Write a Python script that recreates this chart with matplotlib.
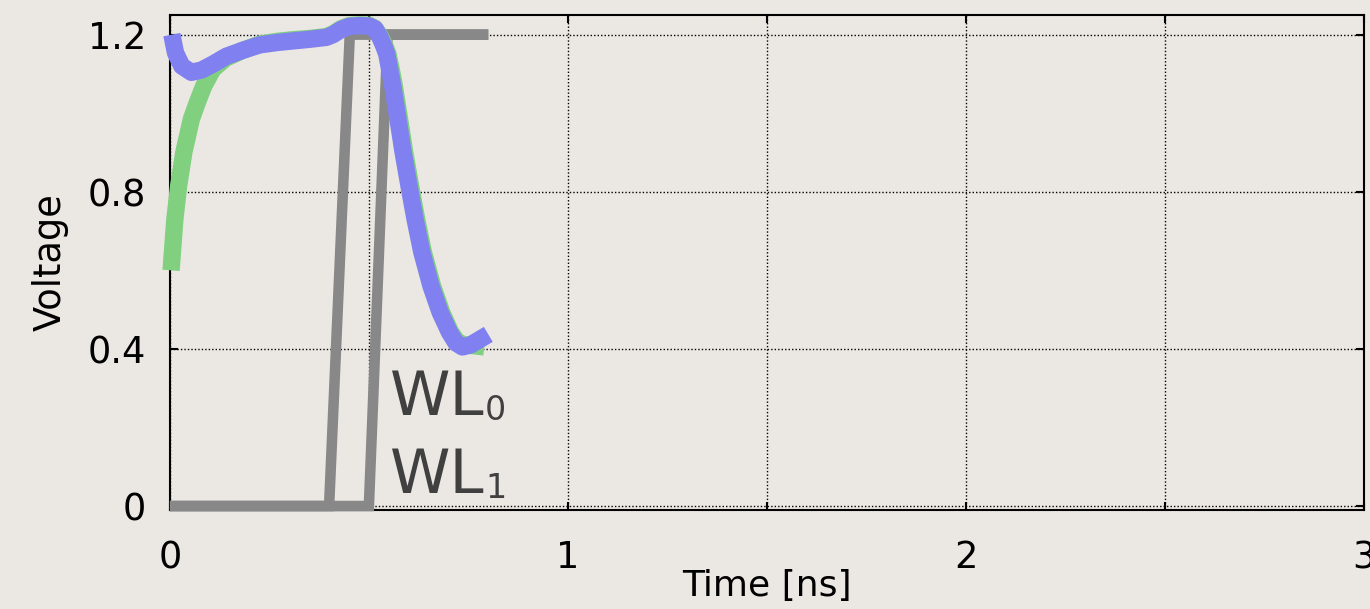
import numpy as np
import matplotlib.pyplot as plt
from matplotlib.ticker import FuncFormatter

# word-line waveforms (gray)
wl0_t = [0.0, 0.40, 0.452, 0.80]
wl0_v = [0.0, 0.0, 1.2, 1.2]
wl1_t = [0.0, 0.50, 0.547, 0.80]
wl1_v = [0.0, 0.0, 1.2, 1.2]

# green curve
green_t = [0.003, 0.0125, 0.022, 0.035, 0.054, 0.07, 0.085, 0.108, 0.14, 0.183,
           0.226, 0.27, 0.309, 0.35, 0.393, 0.41, 0.43, 0.451, 0.477, 0.50,
           0.515, 0.529, 0.54, 0.548, 0.556, 0.564, 0.577, 0.590, 0.607, 0.620,
           0.637, 0.660, 0.683, 0.705, 0.722, 0.74, 0.765, 0.79]
green_v = [0.60, 0.73, 0.815, 0.90, 0.985, 1.03, 1.069, 1.112, 1.14, 1.16,
           1.176, 1.183, 1.187, 1.19, 1.195, 1.202, 1.215, 1.223, 1.225, 1.224,
           1.216, 1.195, 1.172, 1.15, 1.112, 1.069, 0.985, 0.900, 0.802, 0.730,
           0.646, 0.560, 0.493, 0.443, 0.418, 0.41, 0.408, 0.405]

# blue curve
blue_t = [0.005, 0.014, 0.03, 0.054, 0.08, 0.11, 0.142, 0.183, 0.226, 0.27,
          0.309, 0.35, 0.393, 0.41, 0.43, 0.451, 0.477, 0.50, 0.515, 0.527,
          0.537, 0.545, 0.552, 0.560, 0.573, 0.586, 0.603, 0.616, 0.633, 0.656,
          0.679, 0.702, 0.719, 0.735, 0.755, 0.78, 0.80]
blue_v = [1.20, 1.154, 1.12, 1.104, 1.11, 1.126, 1.145, 1.16, 1.174, 1.18,
          1.184, 1.188, 1.193, 1.20, 1.213, 1.221, 1.223, 1.222, 1.215, 1.195,
          1.172, 1.15, 1.112, 1.069, 0.985, 0.900, 0.802, 0.730, 0.646, 0.560,
          0.493, 0.443, 0.415, 0.405, 0.41, 0.425, 0.437]

x_ticks = [0, 0.5, 1, 1.5, 2, 2.5, 3]
y_ticks = [0, 0.4, 0.8, 1.2]
y_labels = ['0', '0.4', '0.8', '1.2']

bg = '#ebe8e3'
plt.rcParams['font.family'] = ['DejaVu Sans']

fig = plt.figure(figsize=(13.7, 6.09), dpi=100, facecolor=bg)
ax = fig.add_axes([0.124, 0.1626, 0.8716, 0.8128])
ax.set_facecolor('none')

ax.plot(wl0_t, wl0_v, color='#888888', lw=7.6, solid_capstyle='butt',
        solid_joinstyle='miter', clip_on=False, zorder=3)
ax.plot(wl1_t, wl1_v, color='#888888', lw=7.6, solid_capstyle='butt',
        solid_joinstyle='miter', clip_on=False, zorder=3)
ax.plot(green_t, green_v, color='#80d080', lw=12.5, solid_capstyle='butt',
        solid_joinstyle='round', clip_on=False, zorder=4)
ax.plot(blue_t, blue_v, color='#8080f0', lw=12.5, solid_capstyle='butt',
        solid_joinstyle='round', clip_on=False, zorder=5)

ax.set_xlim(0, 3)
ax.set_ylim(-0.01, 1.25)
ax.set_xticks(x_ticks)
ax.xaxis.set_major_formatter(FuncFormatter(
    lambda v, p: '%d' % v if abs(v - round(v)) < 1e-6 else ''))
ax.set_yticks(y_ticks)
ax.set_yticklabels(y_labels)

ax.grid(True, color='black', lw=1.0, linestyle=(0, (1, 1.5)), zorder=1)
ax.set_axisbelow(True)
for s in ax.spines.values():
    s.set_linewidth(1.5)
    s.set_color('black')

ax.tick_params(direction='in', length=6, width=1.5, top=True, right=True,
               labelsize=26.5, colors='black')
ax.tick_params(axis='x', pad=21)
ax.tick_params(axis='y', pad=17)

ax.set_xlabel('Time [ns]', fontsize=26, labelpad=-5)
ax.set_ylabel('Voltage', fontsize=26.5, labelpad=14)

# word-line labels
for txt_sub, yb in [('0', 0.232), ('1', 0.033)]:
    t = ax.text(0.552, yb, 'WL', fontsize=44, color='#404040',
                ha='left', va='baseline', zorder=6)
    ax.annotate(txt_sub, xy=(1, 0), xycoords=t, xytext=(1, 8),
                textcoords='offset pixels', fontsize=24, color='#404040',
                ha='left', va='baseline', zorder=6)

fig.savefig('out.png', dpi=100, facecolor=bg)
